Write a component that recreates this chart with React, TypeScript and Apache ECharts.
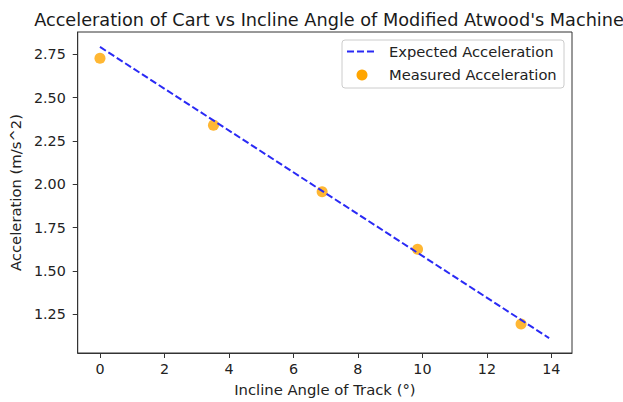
import React, { useEffect, useRef } from "react";
import * as echarts from "echarts";

const expectedX = [0, 13.93];
const expectedY = [2.792, 1.113];
const measuredX = [0, 3.52, 6.89, 9.85, 13.06];
const measuredY = [2.727, 2.341, 1.957, 1.625, 1.194];
const xTicks = [0, 2, 4, 6, 8, 10, 12, 14];
const yTicks = [1.25, 1.5, 1.75, 2.0, 2.25, 2.5, 2.75];

const FONT = "DejaVu Sans";

export default function App() {
  const ref = useRef<HTMLDivElement>(null);
  useEffect(() => {
    if (!ref.current) return;
    const chart = echarts.init(ref.current, null, { renderer: "svg" });
    const lineData = expectedX.map((x, i) => [x, expectedY[i]]);
    const scatterData = measuredX.map((x, i) => [x, measuredY[i]]);
    chart.setOption({
      animation: false,
      backgroundColor: "#ffffff",
      textStyle: { fontFamily: FONT },
      title: {
        text: "Acceleration of Cart vs Incline Angle of Modified Atwood's Machine",
        left: 324,
        textAlign: "center",
        top: 6,
        textStyle: { fontFamily: FONT, fontSize: 17.7, fontWeight: "normal", color: "#1a1a1a" },
      },
      grid: {
        left: 76,
        right: 51,
        top: 32,
        bottom: 47,
        show: true,
        borderColor: "#333",
        borderWidth: 1,
        backgroundColor: "transparent",
      },
      xAxis: {
        type: "value",
        min: -0.69,
        max: 14.64,
        name: "Incline Angle of Track (°)",
        nameLocation: "middle",
        nameGap: 29,
        nameTextStyle: { fontFamily: FONT, fontSize: 14.8, color: "#222" },
        axisLine: { show: true, onZero: false, lineStyle: { color: "#333" } },
        axisTick: { show: true, length: 5, customValues: xTicks, lineStyle: { color: "#333" } },
        axisLabel: {
          customValues: xTicks,
          fontFamily: FONT,
          fontSize: 14.3,
          color: "#222",
          margin: 9,
          formatter: (v: number) => String(v),
        },
        splitLine: { show: false },
      },
      yAxis: {
        type: "value",
        min: 1.027,
        max: 2.878,
        name: "Acceleration (m/s^2)",
        nameLocation: "middle",
        nameGap: 49,
        nameRotate: 90,
        nameTextStyle: { fontFamily: FONT, fontSize: 14.8, color: "#222" },
        axisLine: { show: true, onZero: false, lineStyle: { color: "#333" } },
        axisTick: { show: true, length: 5, customValues: yTicks, lineStyle: { color: "#333" } },
        axisLabel: {
          customValues: yTicks,
          fontFamily: FONT,
          fontSize: 14.3,
          color: "#222",
          margin: 12,
          formatter: (v: number) => v.toFixed(2),
        },
        splitLine: { show: false },
      },
      graphic: [
        {
          type: "rect",
          shape: { x: 342, y: 40, width: 222, height: 48, r: 3 },
          style: { fill: "rgba(255,255,255,0.8)", stroke: "#cccccc", lineWidth: 1 },
          z: 100,
        },
        {
          type: "line",
          shape: { x1: 347, y1: 51.5, x2: 377, y2: 51.5 },
          style: { stroke: "#2a2af5", lineWidth: 2, lineDash: [7, 3] },
          z: 101,
        },
        {
          type: "circle",
          shape: { cx: 362, cy: 75, r: 5.5 },
          style: { fill: "#FFA500" },
          z: 101,
        },
        {
          type: "text",
          x: 389,
          y: 51.7,
          style: { text: "Expected Acceleration", fontFamily: FONT, fontSize: 14.7, fill: "#222", verticalAlign: "middle" },
          z: 101,
        },
        {
          type: "text",
          x: 389,
          y: 74.5,
          style: { text: "Measured Acceleration", fontFamily: FONT, fontSize: 14.7, fill: "#222", verticalAlign: "middle" },
          z: 101,
        },
      ],
      series: [
        {
          name: "Measured Acceleration",
          type: "scatter",
          data: scatterData,
          symbol: "circle",
          symbolSize: 11,
          itemStyle: { color: "#FFA500" },
          z: 2,
        },
        {
          name: "Expected Acceleration",
          type: "line",
          data: lineData,
          symbol: "none",
          lineStyle: { color: "#2a2af5", width: 2, type: [7, 3] },
          z: 3,
        },
      ],
    });
    return () => chart.dispose();
  }, []);
  return <div ref={ref} style={{ width: 623, height: 402, position: "absolute", left: 0, top: 0 }} />;
}
